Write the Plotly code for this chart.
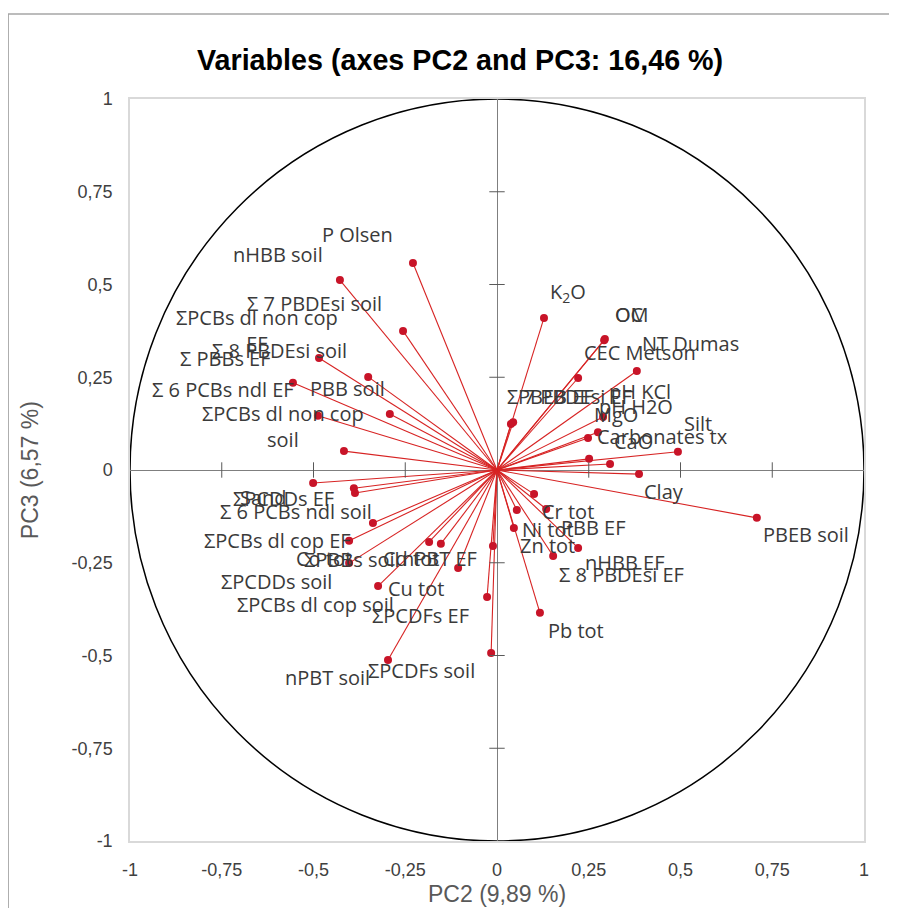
import plotly.graph_objects as go

# ---------------- data (PC2, PC3 loadings) ----------------
labels = [
    "P Olsen", "nHBB soil", "Σ 7 PBDEsi soil", "Σ 8 PBDEsi soil",
    "ΣPCBs dl non cop<br>EF", "Σ PBBs EF", "Σ 6 PCBs ndl EF", "PBB soil",
    "ΣPCBs dl non cop<br>soil",
    "K<sub>2</sub>O", "OC", "OM", "NT Dumas", "CEC Metson", "PBEB EF", "Σ 7 PBDEsi EF",
    "pH KCl", "pH H2O", "MgO", "Carbonates tx", "CaO", "Silt", "Clay", "PBEB soil",
    "Cr tot", "PBB EF", "Ni tot", "Zn tot", "nHBB EF", "Σ 8 PBDEsi EF", "Pb tot",
    "Sand", "ΣPCDDs EF", "Σ 6 PCBs ndl soil", "ΣPCBs dl cop EF", "ΣPCDDs soil",
    "Co tot", "ΣPBBs soil", "Cd tot", "nPBT EF", "Cu tot", "ΣPCBs dl cop soil",
    "ΣPCDFs EF", "ΣPCDFs soil", "nPBT soil",
]
pc2 = [
    -0.229, -0.428, -0.256, -0.485, -0.351, -0.556, -0.417, -0.292, -0.488,
    0.128, 0.292, 0.294, 0.381, 0.221, 0.038, 0.044,
    0.289, 0.275, 0.248, 0.308, 0.251, 0.493, 0.387, 0.708,
    0.101, 0.134, 0.054, 0.046, 0.221, 0.153, 0.117,
    -0.501, -0.390, -0.387, -0.403, -0.338,
    -0.185, -0.403, -0.153, -0.106, -0.324, -0.011,
    -0.027, -0.016, -0.297,
]
pc3 = [
    0.558, 0.512, 0.375, 0.302, 0.251, 0.235, 0.051, 0.151, 0.146,
    0.410, 0.350, 0.353, 0.267, 0.248, 0.124, 0.129,
    0.143, 0.102, 0.086, 0.016, 0.030, 0.049, -0.011, -0.129,
    -0.065, -0.105, -0.108, -0.156, -0.210, -0.232, -0.385,
    -0.035, -0.049, -0.062, -0.191, -0.143,
    -0.194, -0.251, -0.199, -0.264, -0.313, -0.205,
    -0.342, -0.493, -0.512,
]
tick_vals = [-1, -0.75, -0.5, -0.25, 0, 0.25, 0.5, 0.75, 1]
tick_text = ["-1", "-0,75", "-0,5", "-0,25", "0", "0,25", "0,5", "0,75", "1"]

title_text = "Variables (axes PC2 and PC3: 16,46 %)"
x_title = "PC2 (9,89 %)"
y_title = "PC3 (6,57 %)"

# ---------------- label placement (pixel offsets, screen-down positive) ----------------
label_dx = [
    -55, -62, -89, -40, -111, -67, -121, -42, -35,
    24, 25, 27, 54, 62, 45, 56,
    37, 38, 28, 52, 44, 20, 25, 49,
    34, 47, 31, 34, 46, 68, 36,
    -50, -70, -59, -72, -96,
    -105, 3, -30, -19, 38, -177,
    -67, -70, -61,
]
label_dy = [
    -28, -26, -27, -7, -46, -24, -62, -25, 11,
    -25, -26, -25, -27, -25, -28, -26,
    -25, -26, -24, -28, -17, -28, 17, 17,
    17, 19, 19, 18, 15, 18, 18,
    15, 10, 18, 0, 58,
    17, -4, 15, -9, 2, 58,
    19, 18, 18,
]

LINE_RED = "rgb(215,35,35)"
DOT_RED = "rgb(200,20,40)"
LABEL_COL = "#3a3a3a"
LABEL_FONT = "Open Sans"

fig = go.Figure()

# vectors from the origin
vx, vy = [], []
for a, b in zip(pc2, pc3):
    vx += [0, a, None]
    vy += [0, b, None]
fig.add_trace(go.Scatter(x=vx, y=vy, mode="lines",
                         line=dict(color=LINE_RED, width=1.1),
                         hoverinfo="skip", showlegend=False))

# points
fig.add_trace(go.Scatter(x=pc2, y=pc3, mode="markers",
                         marker=dict(color=DOT_RED, size=8),
                         text=[l.replace("<br>", " ") for l in labels],
                         hoverinfo="text", showlegend=False))

# cross ticks on the zero lines
inner = [v for v in tick_vals if v not in (-1, 0, 1)]
fig.add_trace(go.Scatter(x=[0] * len(inner), y=inner, mode="markers",
                         marker=dict(symbol="line-ew", size=11,
                                     line=dict(color="#595959", width=1)),
                         hoverinfo="skip", showlegend=False))
fig.add_trace(go.Scatter(x=inner, y=[0] * len(inner), mode="markers",
                         marker=dict(symbol="line-ns", size=11,
                                     line=dict(color="#595959", width=1)),
                         hoverinfo="skip", showlegend=False))

# labels
for a, b, t, dx, dy in zip(pc2, pc3, labels, label_dx, label_dy):
    fig.add_annotation(x=a, y=b, xref="x", yref="y", text=t, showarrow=False,
                       xshift=dx, yshift=-dy, xanchor="center", yanchor="middle",
                       font=dict(family=LABEL_FONT, size=20, color=LABEL_COL))

# correlation circle
r = max(tick_vals)
fig.add_shape(type="circle", xref="x", yref="y", x0=-r, y0=-r, x1=r, y1=r,
              line=dict(color="black", width=1.5), layer="below")

# outer chart border
fig.add_shape(type="rect", xref="paper", yref="paper",
              x0=-0.166, x1=1.3, y0=-0.3, y1=1.1146,
              line=dict(color="#a6a6a6", width=1.5), layer="below")

# axis titles
fig.add_annotation(x=0.5, y=-0.0714, xref="paper", yref="paper", text=x_title,
                   showarrow=False, xanchor="center", yanchor="middle",
                   font=dict(family="Liberation Sans", size=23, color="#595959"))
fig.add_annotation(x=-0.136, y=0.5, xref="paper", yref="paper", text=y_title,
                   showarrow=False, textangle=-90, xanchor="center", yanchor="middle",
                   font=dict(family="Liberation Sans", size=23, color="#595959"))

axis_common = dict(range=[-1, 1], tickmode="array", tickvals=tick_vals, ticktext=tick_text,
                   showgrid=False, zeroline=True, zerolinecolor="#7f7f7f", zerolinewidth=1,
                   showline=True, linecolor="#d9d9d9", linewidth=1.5, mirror=True,
                   ticks="", ticklabelstandoff=12,
                   tickfont=dict(family="Liberation Sans", size=18, color="#404040"))

fig.update_layout(
    width=897, height=908,
    margin=dict(l=122, r=41, t=91, b=75),
    paper_bgcolor="white", plot_bgcolor="white",
    title=dict(text="<b>" + title_text + "</b>", x=0.504, y=0.9427,
               xanchor="center", yanchor="middle",
               font=dict(family="Liberation Sans", size=28.7, color="black")),
    xaxis=axis_common,
    yaxis=axis_common,
    showlegend=False,
)

fig.write_html("out.html")
